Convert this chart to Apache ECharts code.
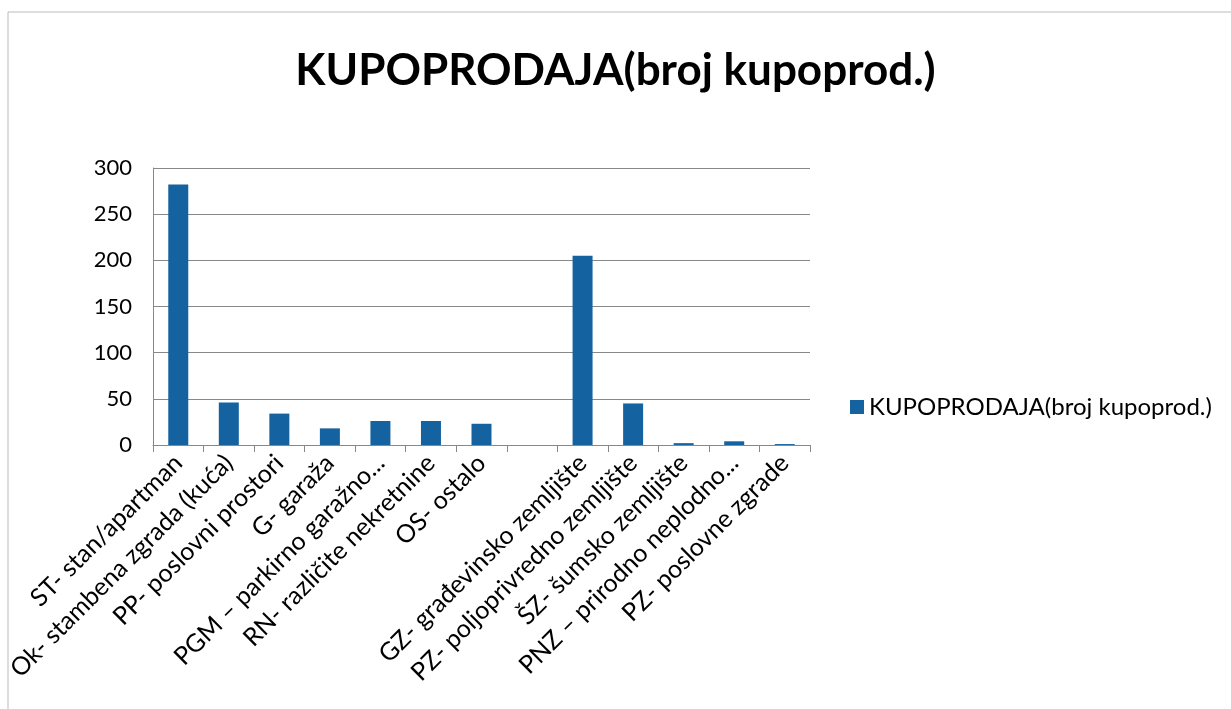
<!DOCTYPE html>
<html>
<head>
<meta charset="utf-8">
<script src="https://cdn.jsdelivr.net/npm/echarts@6/dist/echarts.min.js"></script>
<style>
  html, body { margin: 0; padding: 0; background: #fff; }
  #chart { width: 1231px; height: 709px; }
</style>
</head>
<body>
<div id="chart"></div>
<script>
// categories and counts
var categories = [
  'ST- stan/apartman',
  'Ok- stambena zgrada (kuća)',
  'PP- poslovni prostori',
  'G- garaža',
  'PGM – parkirno garažno...',
  'RN- različite nekretnine',
  'OS- ostalo',
  '',
  'GZ- građevinsko zemljište',
  'PZ- poljoprivredno zemljište',
  'ŠZ- šumsko zemljište',
  'PNZ – prirodno neplodno...',
  'PZ- poslovne zgrade'
];
var kupoprodaja = [282, 46, 34, 18, 26, 26, 23, 0, 205, 45, 2, 4, 1];
var seriesName = 'KUPOPRODAJA(broj kupoprod.)';
var titleText = 'KUPOPRODAJA(broj kupoprod.)';

var fontName = 'Lato, "Open Sans", sans-serif';
var myChart = echarts.init(document.getElementById('chart'));

var option = {
  animation: false,
  backgroundColor: '#fff',
  title: {
    text: titleText,
    left: 'center',
    top: 44,
    textStyle: { fontFamily: fontName, fontSize: 44, fontWeight: 'bold', color: '#000' }
  },
  legend: {
    data: [seriesName],
    left: 845,
    top: 390,
    itemWidth: 14,
    itemHeight: 14,
    itemGap: 6,
    icon: 'rect',
    textStyle: { fontFamily: fontName, fontSize: 24, color: '#000' }
  },
  grid: { left: 153, right: 421, top: 168, bottom: 264 },
  xAxis: {
    type: 'category',
    data: categories,
    axisLine: { lineStyle: { color: '#888' } },
    axisTick: { show: true, alignWithLabel: false, length: 7, lineStyle: { color: '#888' } },
    axisLabel: {
      interval: 0,
      rotate: 45,
      margin: 14,
      fontFamily: fontName,
      fontSize: 25,
      color: '#000'
    }
  },
  yAxis: {
    type: 'value',
    min: 0,
    max: 300,
    interval: 50,
    axisLine: { show: true, lineStyle: { color: '#888' } },
    axisTick: { show: false },
    splitLine: { lineStyle: { color: '#888', width: 1.2 } },
    axisLabel: { fontFamily: fontName, fontSize: 22, color: '#000', margin: 21 }
  },
  series: [{
    name: seriesName,
    type: 'bar',
    data: kupoprodaja,
    barWidth: 20,
    itemStyle: { color: '#14629f' }
  }],
  graphic: [{
    type: 'polyline',
    shape: { points: [[8, 709], [8, 12], [1231, 12]] },
    style: { stroke: '#bbb', lineWidth: 1, fill: null }
  }]
};
myChart.setOption(option);
</script>
</body>
</html>
